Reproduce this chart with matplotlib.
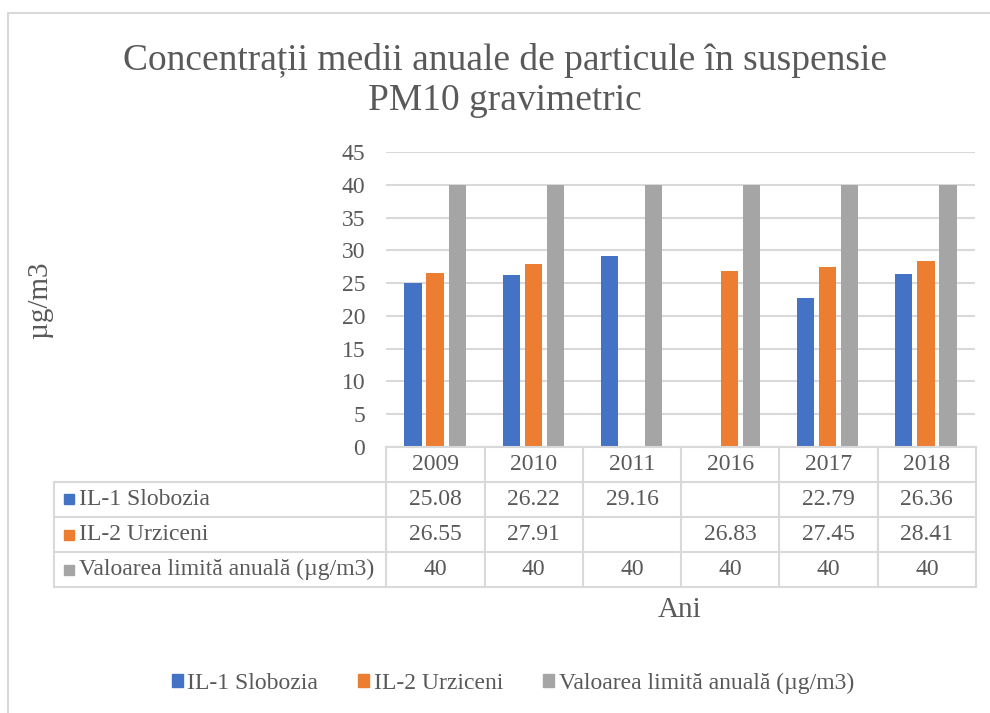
import numpy as np
import matplotlib.pyplot as plt
from matplotlib.patches import Rectangle

plt.rcParams['font.family'] = ['Liberation Serif', 'DejaVu Serif']

years = ['2009', '2010', '2011', '2016', '2017', '2018']
slobozia = [25.08, 26.22, 29.16, None, 22.79, 26.36]
urziceni = [26.55, 27.91, None, 26.83, 27.45, 28.41]
limita = [40, 40, 40, 40, 40, 40]
series_names = ['IL-1 Slobozia', 'IL-2 Urziceni', 'Valoarea limită anuală (µg/m3)']
colors = ['#4472C4', '#ED7D31', '#A5A5A5']

TXT = '#595959'
GRID = '#D9D9D9'
W, H = 990, 713

fig = plt.figure(figsize=(W / 100, H / 100), dpi=100)

# chart frame (goes off the right/bottom of the picture)
fig.patches.append(Rectangle((8 / W, -0.1), 1.1, 1 - 13 / H + 0.1, transform=fig.transFigure,
                             fill=False, edgecolor=GRID, linewidth=1.5))

def px_axes(x0, y0, x1, y1):
    return fig.add_axes([x0 / W, 1 - y1 / H, (x1 - x0) / W, (y1 - y0) / H])

ax = px_axes(386, 152, 975, 447)
x = np.arange(len(years)) + 0.5
bw = 0.175
off = 0.225
all_series = [slobozia, urziceni, limita]
for i, vals in enumerate(all_series):
    v = np.array([np.nan if a is None else a for a in vals], dtype=float)
    ax.bar(x + (i - 1) * off, v, width=bw, color=colors[i], zorder=3)

ax.set_xlim(0, len(years))
ax.set_ylim(0, 45)
ax.set_yticks(np.arange(0, 46, 5))
ax.set_xticks([])
ax.grid(axis='y', color=GRID, linewidth=1.5, zorder=0)
for s in ax.spines.values():
    s.set_visible(False)
ax.tick_params(axis='y', length=0, pad=15, labelsize=17, labelcolor=TXT)

fig.text(505 / W, 1 - 61 / H, 'Concentrații medii anuale de particule în suspensie',
         ha='center', va='center', fontsize=27, color=TXT)
fig.text(505 / W, 1 - 101 / H, 'PM10 gravimetric', ha='center', va='center', fontsize=27, color=TXT)
fig.text(40 / W, 1 - 300 / H, 'µg/m3', rotation=90, ha='center', va='center', fontsize=21, color=TXT)
fig.text(680 / W, 1 - 610 / H, 'Ani', ha='center', va='center', fontsize=21, color=TXT)

# data table under the axis
tab = px_axes(54, 447, 976, 587)
lab_w = (386 - 54) / ((975 - 386) / len(years))
tab.set_xlim(-lab_w, len(years))
tab.set_ylim(4, 0)
tab.axis('off')
n = len(years)
tab.plot([0, n], [0, 0], color=GRID, lw=1.5, clip_on=False)
for r in range(1, 5):
    tab.plot([-lab_w, n], [r, r], color=GRID, lw=1.5, clip_on=False)
for c in range(n + 1):
    tab.plot([c, c], [0, 4], color=GRID, lw=1.5, clip_on=False)
tab.plot([-lab_w, -lab_w], [1, 4], color=GRID, lw=1.5, clip_on=False)
for c, yr in enumerate(years):
    tab.text(c + 0.5, 0.5, yr, ha='center', va='center', fontsize=17, color=TXT)
for r, vals in enumerate(all_series):
    tab.text(-lab_w + 0.25, r + 1.5, series_names[r], ha='left', va='center', fontsize=17, color=TXT)
    tab.plot(-lab_w + 0.15, r + 1.5, marker='s', ms=7, color=colors[r], clip_on=False)
    for c, v in enumerate(vals):
        if v is not None:
            tab.text(c + 0.5, r + 1.5, f'{v:g}', ha='center', va='center', fontsize=17, color=TXT)

handles = [Rectangle((0, 0), 1, 1, color=col) for col in colors]
fig.legend(handles, series_names, loc='center', bbox_to_anchor=(513 / W, 1 - 683 / H), ncol=3,
           frameon=False, fontsize=17, labelcolor=TXT, handlelength=0.45, handleheight=0.45,
           handletextpad=0.2, columnspacing=1.7)

fig.savefig('out.png', dpi=100)
